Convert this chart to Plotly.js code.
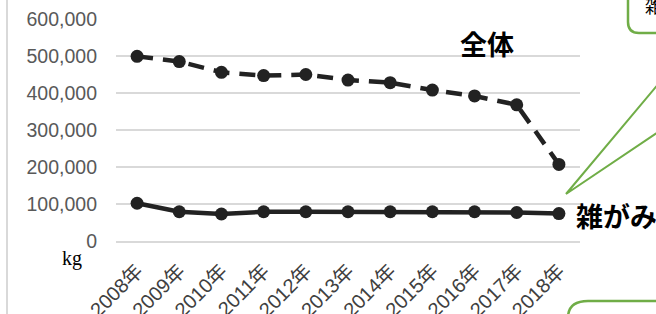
<!DOCTYPE html>
<html>
<head>
<meta charset="utf-8">
<script src="https://cdn.plot.ly/plotly-3.0.1.min.js"></script>
<style>html,body{margin:0;padding:0;background:#fff;}#chart{width:656px;height:314px;}</style>
</head>
<body>
<div id="chart"></div>
<script>
const years = ["2008年","2009年","2010年","2011年","2012年","2013年","2014年","2015年","2016年","2017年","2018年"];
const totalKg = [499000, 485000, 456000, 447000, 450000, 435000, 428000, 408000, 392000, 368000, 207000];
const zatsugamiKg = [102000, 79000, 73000, 79000, 79000, 79000, 79000, 79000, 79000, 77000, 74000];
const yTicks = [0, 100000, 200000, 300000, 400000, 500000, 600000];
const yTickText = ["0","100,000","200,000","300,000","400,000","500,000","600,000"];

const ML = 116, MR = 76, MT = 19, MB = 73, W = 656, H = 314;
const PW = W - ML - MR, PH = H - MT - MB;
const px = v => (v - ML) / PW;
const py = v => (H - MB - v) / PH;

const green = '#70AD47';
const ink = '#222222';
const cjk = '"Liberation Sans", "Noto Sans CJK JP", sans-serif';

const traces = [
  {x: years, y: totalKg, type: 'scatter', mode: 'lines+markers',
   line: {color: ink, width: 4.5, dash: '16px,10px'},
   marker: {color: ink, size: 13}, hoverinfo: 'skip'},
  {x: years, y: zatsugamiKg, type: 'scatter', mode: 'lines+markers',
   line: {color: ink, width: 4.5},
   marker: {color: ink, size: 13}, hoverinfo: 'skip'}
];

function P(x, y) { return px(x) + ',' + py(y); }

const layout = {
  width: W, height: H,
  margin: {l: ML, r: MR, t: MT, b: MB, pad: 0},
  paper_bgcolor: '#fff', plot_bgcolor: '#fff',
  showlegend: false,
  xaxis: {
    type: 'category', range: [-0.5, years.length - 0.5], tickangle: -45, showgrid: false,
    showline: true, linecolor: '#d9d9d9', linewidth: 1.5,
    ticks: '', ticklabelstandoff: 9,
    tickfont: {family: cjk, size: 20, color: '#404040'}
  },
  yaxis: {
    range: [0, 600000], tickvals: yTicks, ticktext: yTickText,
    showgrid: true, gridcolor: '#d9d9d9', gridwidth: 1.5,
    zeroline: false, showline: false, ticks: '', ticklabelstandoff: 18,
    tickfont: {family: '"Liberation Sans", sans-serif', size: 19.5, color: '#595959'}
  },
  shapes: [
    {type: 'line', xref: 'paper', yref: 'paper', x0: px(7), x1: px(7), y0: py(-2), y1: py(316),
     line: {color: '#d9d9d9', width: 2}},
    {type: 'path', xref: 'paper', yref: 'paper',
     path: 'M' + P(628, -10) + ' L' + P(628, 22) + ' Q' + P(628, 33) + ' ' + P(639, 33) + ' L' + P(700, 33),
     line: {color: green, width: 2.5}},
    {type: 'path', xref: 'paper', yref: 'paper',
     path: 'M' + P(568, 330) + ' L' + P(568, 318) + ' Q' + P(568, 301) + ' ' + P(588, 301) + ' L' + P(700, 301),
     line: {color: green, width: 2.5}},
    {type: 'path', xref: 'paper', yref: 'paper',
     path: 'M' + P(670, 70) + ' L' + P(566, 194) + ' L' + P(670, 124),
     line: {color: green, width: 2}}
  ],
  annotations: [
    {xref: 'paper', yref: 'paper', x: px(487), y: py(43), text: '<b>全体</b>', showarrow: false,
     xanchor: 'center', yanchor: 'middle',
     font: {family: '"Noto Sans CJK JP", sans-serif', size: 27, color: '#000'}},
    {xref: 'paper', yref: 'paper', x: px(574), y: py(215), text: '<b>雑がみ</b>', showarrow: false,
     xanchor: 'left', yanchor: 'middle',
     font: {family: '"Noto Sans CJK JP", sans-serif', size: 27, color: '#000'}},
    {xref: 'paper', yref: 'paper', x: px(643), y: py(5), text: '雑がみ', showarrow: false,
     xanchor: 'left', yanchor: 'middle',
     font: {family: '"Noto Sans CJK JP", sans-serif', size: 18, color: '#000'}},
    {xref: 'paper', yref: 'paper', x: px(72), y: py(258), text: 'kg', showarrow: false,
     xanchor: 'center', yanchor: 'middle',
     font: {family: '"Liberation Serif", serif', size: 20, color: '#000'}}
  ]
};

Plotly.newPlot('chart', traces, layout, {displayModeBar: false, staticPlot: true});
</script>
</body>
</html>
